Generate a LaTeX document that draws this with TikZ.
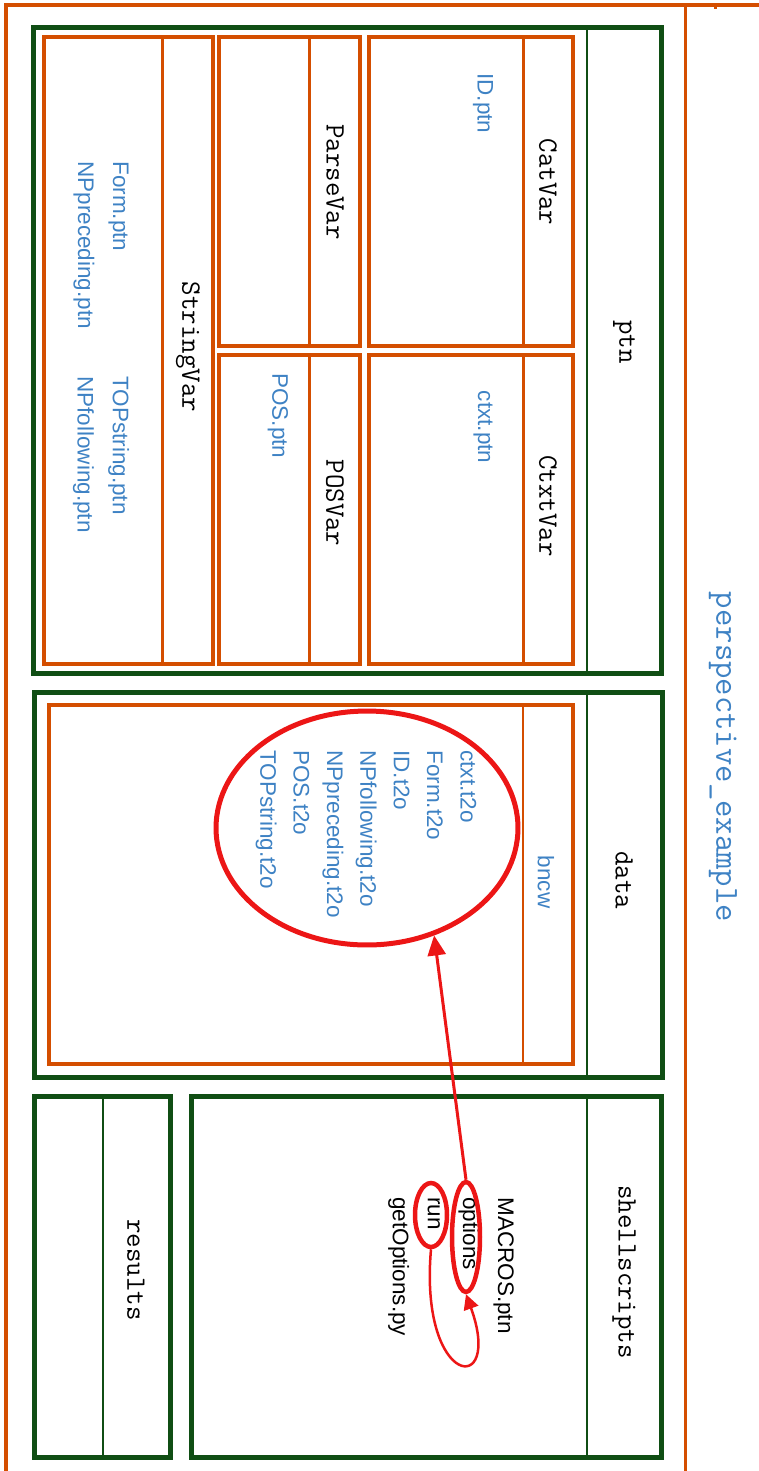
\documentclass[tikz,border=0pt]{standalone}
\usepackage{fontspec}
\newfontfamily\filefont{Liberation Sans}
\usetikzlibrary{shapes.geometric, arrows.meta}
\definecolor{dirgreen}{RGB}{16,78,20}
\definecolor{pkgorange}{RGB}{212,78,0}
\definecolor{fileblue}{RGB}{62,130,196}
\definecolor{markred}{RGB}{236,22,22}

\begin{document}
\begin{tikzpicture}[
    x=0.02cm, y=-0.02cm,
    dirbox/.style={draw=dirgreen, line width=0.1cm},
    dirdiv/.style={draw=dirgreen, line width=0.05cm},
    varbox/.style={draw=pkgorange, line width=0.09cm},
    vardiv/.style={draw=pkgorange, line width=0.06cm},
    title/.style={rotate=-90, inner sep=0pt, font=\ttfamily\fontsize{16}{18}\selectfont},
    fname/.style={rotate=-90, inner sep=0pt, align=left, text=fileblue,
                  font=\filefont\fontsize{12.8}{19}\selectfont},
    ring/.style={draw=markred, ellipse, line width=0.1cm, inner sep=0pt},
    arr/.style={draw=markred, line width=0.06cm, -{Triangle[length=0.4cm, width=0.36cm]}},
  ]
    \useasboundingbox (0,0) rectangle (759,1471);

    % outer folder
    \draw[pkgorange, line width=0.08cm] (759,5) -- (6,5) -- (6,1471);
    \draw[pkgorange, line width=0.06cm] (685,5) -- (685,1471);
    \draw[pkgorange, line width=0.06cm] (715,5) -- (715,9);
    \node[title, text=fileblue, font=\ttfamily\fontsize{19.2}{22}\selectfont] (persp) at (723,757) {perspective\_example};

    % ptn
    \draw[dirbox] (33,27) rectangle (661,673);
    \draw[dirdiv] (587,27) -- (587,673);
    \node[title] (ptn) at (624,342) {ptn};
    \foreach \xa/\xb/\xd/\ya/\yb in {369/573/523/37/346, 369/573/523/355/664,
        219/360/309/37/346, 219/360/309/355/664, 44/213/162/37/664} {
      \draw[varbox] (\xa,\ya) rectangle (\xb,\yb);
      \draw[vardiv] (\xd,\ya) -- (\xd,\yb);
    }
    \node[title] (catvar) at (548,182) {CatVar};
    \node[title] (ctxtvar) at (548,506) {CtxtVar};
    \node[title] (parsevar) at (335,182) {ParseVar};
    \node[title] (posvar) at (335,503) {POSVar};
    \node[title] (stringvar) at (188,347) {StringVar};
    \node[fname, anchor=west] (idptn) at (483,73) {ID.ptn};
    \node[fname] (ctxtptn) at (483,427) {ctxt.ptn};
    \node[fname, anchor=west] (posptn) at (278,373) {POS.ptn};
    \node[fname, anchor=west, font=\filefont\fontsize{12.8}{20}\selectfont] (strptna) at (101,161) {Form.ptn\\NPpreceding.ptn};
    \node[fname, anchor=west, font=\filefont\fontsize{12.8}{20}\selectfont] (strptnb) at (101,376) {TOPstring.ptn\\NPfollowing.ptn};

    % data
    \draw[dirbox] (34,692) rectangle (662,1077);
    \draw[dirdiv] (587,692) -- (587,1077);
    \node[title] (data) at (624,880) {data};
    \draw[pkgorange, line width=0.08cm] (49,705) rectangle (573,1064);
    \draw[pkgorange, line width=0.04cm] (523,705) -- (523,1064);
    \node[fname] (bncw) at (546,882) {bncw};
    \node[fname, anchor=west] (tfiles) at (366,750)
      {ctxt.t2o\\Form.t2o\\ID.t2o\\NPfollowing.t2o\\NPpreceding.t2o\\POS.t2o\\TOPstring.t2o};
    \node[ring, minimum width=6.04cm, minimum height=4.68cm] (filesring) at (367,828) {};

    % shellscripts
    \draw[dirbox] (191,1096) rectangle (661,1457);
    \draw[dirdiv] (587,1096) -- (587,1457);
    \node[title] (shell) at (624,1272) {shellscripts};
    \node[fname, anchor=west, text=black, font=\filefont\fontsize{12.8}{20}\selectfont] (sfiles) at (451,1197)
      {MACROS.ptn\\options\\run\\getOptions.py};
    \node[ring, line width=0.09cm, minimum width=0.56cm, minimum height=2.2cm] (optring) at (466,1237) {};
    \node[ring, line width=0.09cm, minimum width=0.64cm, minimum height=1.28cm] (runring) at (431,1215) {};

    % results
    \draw[dirbox] (34,1096) rectangle (170,1457);
    \draw[dirdiv] (103,1096) -- (103,1457);
    \node[title] (results) at (136,1270) {results};

    \draw[arr] (optring.north) -- (filesring.-58);
    \draw[arr, line width=0.05cm, -{Triangle[length=0.3cm, width=0.3cm]}]
      (runring.south) to[out=-95, in=-70, out distance=2.8cm, in distance=2.2cm] (optring.south);
\end{tikzpicture}
\end{document}
